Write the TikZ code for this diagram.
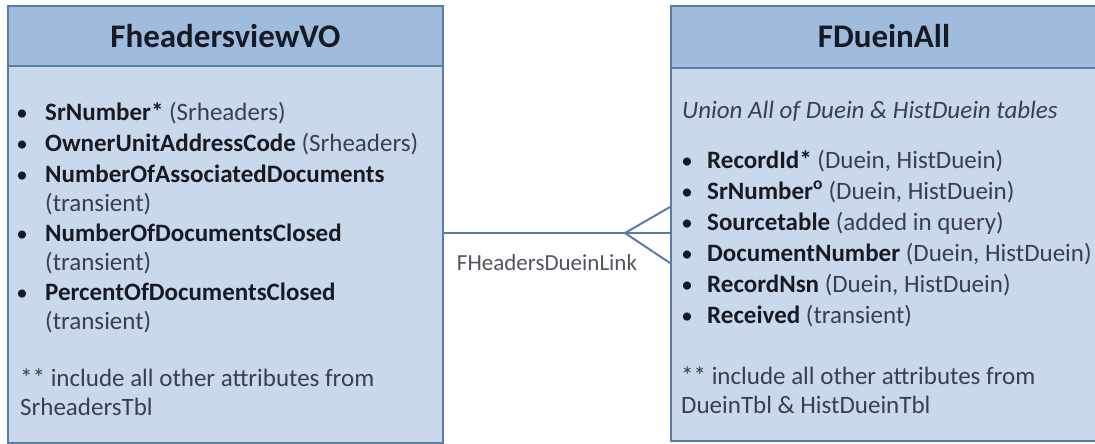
\documentclass[tikz,border=0pt]{standalone}
\usepackage{fontspec}
\setmainfont{Carlito}
\definecolor{hdr}{RGB}{160,188,221}
\definecolor{bodyc}{RGB}{201,216,234}
\definecolor{edgec}{RGB}{92,124,165}
\definecolor{ink}{RGB}{22,26,36}
\definecolor{soft}{RGB}{58,62,78}
\definecolor{lnk}{RGB}{80,84,92}
\tikzset{
  boxbody/.style={draw=edgec, line width=2pt, fill=bodyc, inner sep=0, anchor=north west},
  boxhead/.style={draw=edgec, line width=2pt, fill=hdr, inner sep=0, anchor=north west},
  title/.style={font=\fontsize{33}{38}\selectfont\bfseries, text=ink, inner sep=0},
  txt/.style={anchor=base west, inner sep=0, font=\fontsize{25}{30}\selectfont, text=ink},
  bul/.style={anchor=base, inner sep=0, font=\fontsize{23}{28}\selectfont, text=ink},
  conn/.style={draw=edgec, line width=2pt},
}
\newcommand{\soft}[1]{{\color{soft}#1}}
\begin{document}
\begin{tikzpicture}[x=1pt,y=-1pt]
\useasboundingbox (0,0) rectangle (1095,444);
\clip (0,0) rectangle (1095,444);
\fill[white] (0,0) rectangle (1095,444);
% left entity
\node[boxbody, minimum width=435pt, minimum height=437pt] (L) at (7,5) {};
\node[boxhead, minimum width=435pt, minimum height=60pt] (LH) at (7,5) {};
\node[title] (LT) at (LH.center) {FheadersviewVO};
% right entity
\node[boxbody, minimum width=440pt, minimum height=435pt] (R) at (670,5) {};
\node[boxhead, minimum width=440pt, minimum height=62pt] (RH) at (670,5) {};
\node[title] (RT) at (884,36) {FDueinAll};
% left attributes
\node[bul] (lb1) at (22,120) {•};
\node[txt] (l1) at (45,120) {\textbf{SrNumber*} \soft{(Srheaders)}};
\node[bul] (lb2) at (22,151) {•};
\node[txt] (l2) at (45,151) {\textbf{OwnerUnitAddressCode} \soft{(Srheaders)}};
\node[bul] (lb3) at (22,182) {•};
\node[txt] (l3) at (45,182) {\textbf{NumberOfAssociatedDocuments}};
\node[txt] (l3b) at (45,211) {\soft{(transient)}};
\node[bul] (lb4) at (22,241) {•};
\node[txt] (l4) at (45,241) {\textbf{NumberOfDocumentsClosed}};
\node[txt] (l4b) at (45,270) {\soft{(transient)}};
\node[bul] (lb5) at (22,300) {•};
\node[txt] (l5) at (45,300) {\textbf{PercentOfDocumentsClosed}};
\node[txt] (l5b) at (45,329) {\soft{(transient)}};
\node[txt] (l6) at (20,386) {\soft{** include all other attributes from}};
\node[txt] (l6b) at (20,415) {\soft{SrheadersTbl}};
% right attributes
\node[txt] (r0) at (682,118) {\soft{\itshape Union All of Duein \& HistDuein tables}};
\node[bul] (rb1) at (687,168) {•};
\node[txt] (r1) at (707,168) {\textbf{RecordId*} \soft{(Duein, HistDuein)}};
\node[bul] (rb2) at (687,199) {•};
\node[txt] (r2) at (707,199) {\textbf{SrNumber\textsuperscript{o}} \soft{(Duein, HistDuein)}};
\node[bul] (rb3) at (687,230) {•};
\node[txt] (r3) at (707,230) {\textbf{Sourcetable} \soft{(added in query)}};
\node[bul] (rb4) at (687,261) {•};
\node[txt] (r4) at (707,261) {\textbf{DocumentNumber} \soft{(Duein, HistDuein)}};
\node[bul] (rb5) at (687,292) {•};
\node[txt] (r5) at (707,292) {\textbf{RecordNsn} \soft{(Duein, HistDuein)}};
\node[bul] (rb6) at (687,323) {•};
\node[txt] (r6) at (707,323) {\textbf{Received} \soft{(transient)}};
\node[txt] (r7) at (681,384) {\soft{** include all other attributes from}};
\node[txt] (r7b) at (681,413) {\soft{DueinTbl \& HistDueinTbl}};
% relationship
\coordinate (apex) at (625,233);
\draw[conn] (L.east |- apex) -- (R.west |- apex);
\draw[conn] (apex) -- ([yshift=26pt]R.west |- apex);
\draw[conn] (apex) -- ([yshift=-30pt]R.west |- apex);
\node[anchor=base, inner sep=0, font=\fontsize{23}{27}\selectfont, text=lnk] (lnk) at (547,270) {FHeadersDueinLink};
\end{tikzpicture}
\end{document}
